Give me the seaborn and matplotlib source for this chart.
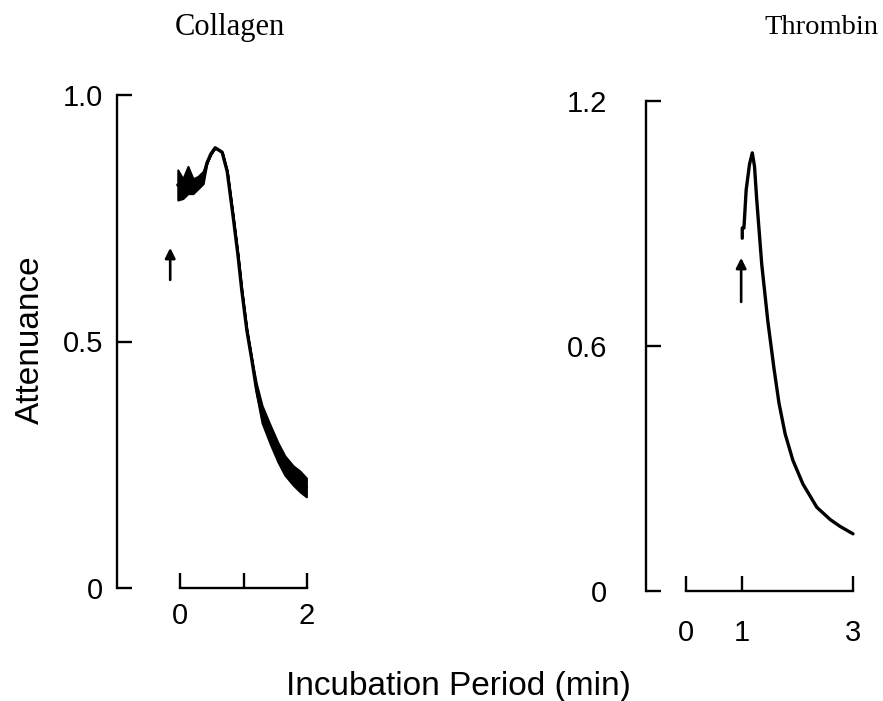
import numpy as np
import matplotlib
matplotlib.use("Agg")
import matplotlib.pyplot as plt
import seaborn as sns

# Collagen trace: time (min) with lower / upper envelope of the recorded signal
collagen_time = [-0.04, 0.04, 0.12, 0.20, 0.28, 0.36, 0.42, 0.48, 0.55, 0.66,
                 0.74, 0.83, 0.91, 0.97, 1.05, 1.13, 1.20, 1.29, 1.42, 1.54,
                 1.65, 1.78, 1.89, 1.99]
collagen_low = [0.787, 0.790, 0.800, 0.800, 0.810, 0.820, 0.862, 0.880, 0.893, 0.884,
                0.845, 0.757, 0.675, 0.604, 0.523, 0.462, 0.395, 0.335, 0.292, 0.256,
                0.229, 0.209, 0.195, 0.185]
collagen_high = [0.848, 0.830, 0.855, 0.830, 0.835, 0.845, 0.862, 0.880, 0.893, 0.884,
                 0.845, 0.757, 0.675, 0.604, 0.523, 0.462, 0.415, 0.370, 0.330, 0.295,
                 0.268, 0.248, 0.237, 0.223]

# Thrombin trace
thrombin_time = [1.01, 1.01, 1.04, 1.08, 1.14, 1.19, 1.23, 1.27, 1.36, 1.47, 1.58,
                 1.67, 1.78, 1.92, 2.10, 2.35, 2.59, 2.77, 3.00]
thrombin_value = [0.864, 0.889, 0.889, 0.982, 1.045, 1.073, 1.040, 0.958, 0.800, 0.660,
                  0.545, 0.460, 0.385, 0.320, 0.262, 0.205, 0.175, 0.158, 0.140]

# Agonist addition arrows: x position, tail, tip
collagen_arrow = [-0.16, 0.625, 0.69]
thrombin_arrow = [0.99, 0.708, 0.816]

collagen_yticks = [0, 0.5, 1.0]
collagen_ylabels = ["0", "0.5", "1.0"]
collagen_xticks = [0, 1, 2]
collagen_xlabels = ["0", "", "2"]

thrombin_yticks = [0, 0.6, 1.2]
thrombin_ylabels = ["0", "0.6", "1.2"]
thrombin_xticks = [0, 1, 3]
thrombin_xlabels = ["0", "1", "3"]

sns.set_style("ticks")
plt.rcParams["font.family"] = ["Liberation Sans", "DejaVu Sans"]
plt.rcParams["text.color"] = "black"
plt.rcParams["axes.labelcolor"] = "black"

W, H = 883, 701
fig = plt.figure(figsize=(W / 100, H / 100), dpi=100)
ax1 = fig.add_axes([117 / W, 1 - 588 / H, 190 / W, 493 / H])
ax2 = fig.add_axes([646 / W, 1 - 591 / H, 207 / W, 490 / H])

mid = (np.array(collagen_low) + np.array(collagen_high)) / 2
sns.lineplot(x=collagen_time, y=mid, ax=ax1, color="black", lw=2.4,
             estimator=None, sort=False, clip_on=False)
ax1.fill_between(collagen_time, collagen_low, collagen_high, color="black",
                 lw=1.5, clip_on=False)

sns.lineplot(x=thrombin_time, y=thrombin_value, ax=ax2, color="black", lw=2.4,
             estimator=None, sort=False, clip_on=False)

for ax, arr in ((ax1, collagen_arrow), (ax2, thrombin_arrow)):
    ax.annotate("", xy=(arr[0], arr[2]), xytext=(arr[0], arr[1]),
                arrowprops=dict(arrowstyle="-|>", color="black", lw=1.9,
                                mutation_scale=15, shrinkA=0, shrinkB=0))


def style_axis(ax, xlim, ylim, xt, xl, yt, yl, ypad, xpad):
    ax.set_xlim(*xlim)
    ax.set_ylim(*ylim)
    ax.set_xticks(xt)
    ax.set_xticklabels(xl)
    ax.set_yticks(yt)
    ax.set_yticklabels(yl)
    ax.set_xlabel("")
    ax.set_ylabel("")
    for s in ("top", "right"):
        ax.spines[s].set_visible(False)
    ax.spines["left"].set_bounds(yt[0], yt[-1])
    ax.spines["bottom"].set_bounds(xt[0], xt[-1])
    for s in ("left", "bottom"):
        ax.spines[s].set_linewidth(1.7)
        ax.spines[s].set_color("black")
    ax.tick_params(axis="both", direction="in", length=11, width=1.7,
                   colors="black", labelsize=21)
    ax.tick_params(axis="y", pad=ypad)
    ax.tick_params(axis="x", pad=xpad)
    ax.patch.set_alpha(0)


style_axis(ax1, (-1.0, 2.0), (0, 1.0), collagen_xticks, collagen_xlabels,
           collagen_yticks, collagen_ylabels, ypad=10, xpad=10)
style_axis(ax2, (-0.72, 3.0), (0, 1.2), thrombin_xticks, thrombin_xlabels,
           thrombin_yticks, thrombin_ylabels, ypad=28, xpad=20)

fig.text(30 / W, 1 - 340 / H, "Attenuance", rotation=90, ha="center",
         va="center", fontsize=24)
fig.text(458 / W, 1 - 686 / H, "Incubation Period (min)", ha="center",
         va="center", fontsize=24)
fig.text(230 / W, 1 - 28 / H, "Collagen", ha="center", va="center",
         fontsize=22, family=["Liberation Serif", "DejaVu Serif"])
fig.text(878 / W, 1 - 28 / H, "Thrombin", ha="right", va="center",
         fontsize=20.5, family=["Liberation Serif", "DejaVu Serif"])

fig.savefig("out.png", dpi=100)
